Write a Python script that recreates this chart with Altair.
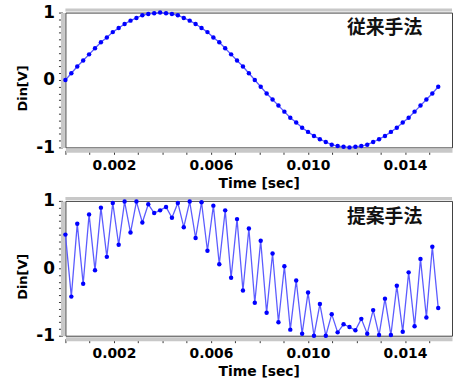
import altair as alt
import pandas as pd

# ---- data ----
sample_interval = 0.000244  # seconds between samples

conventional = [0.00, 0.10, 0.20, 0.29, 0.38, 0.47, 0.56, 0.63, 0.71, 0.77,
                0.83, 0.88, 0.92, 0.96, 0.98, 0.99, 1.00, 0.99, 0.98, 0.96,
                0.92, 0.88, 0.83, 0.77, 0.71, 0.63, 0.56, 0.47, 0.38, 0.29,
                0.20, 0.10, 0.00, -0.10, -0.20, -0.29, -0.38, -0.47, -0.56, -0.63,
                -0.71, -0.77, -0.83, -0.88, -0.92, -0.96, -0.98, -0.99, -1.00, -0.99,
                -0.98, -0.96, -0.92, -0.88, -0.83, -0.77, -0.71, -0.63, -0.56, -0.47,
                -0.38, -0.29, -0.20, -0.10]

proposed = [0.50, -0.42, 0.66, -0.23, 0.80, -0.03, 0.90, 0.17, 0.97, 0.35,
            0.99, 0.53, 0.99, 0.68, 0.95, 0.82, 0.86, 0.91, 0.75, 0.97,
            0.61, 0.99, 0.45, 0.98, 0.26, 0.93, 0.06, 0.86, -0.14, 0.73,
            -0.33, 0.59, -0.51, 0.41, -0.66, 0.22, -0.80, 0.03, -0.91, -0.18,
            -0.97, -0.36, -1.00, -0.53, -1.00, -0.68, -0.95, -0.83, -0.87, -0.92,
            -0.75, -0.97, -0.62, -0.99, -0.45, -0.99, -0.26, -0.94, -0.06, -0.86,
            0.14, -0.73, 0.32, -0.59]

times = [round(i * sample_interval, 7) for i in range(len(conventional))]

x_ticks = [0.000, 0.001, 0.002, 0.003, 0.004, 0.005, 0.006, 0.007, 0.008,
           0.009, 0.010, 0.011, 0.012, 0.013, 0.014, 0.015]
y_ticks = [-1.0, -0.9, -0.8, -0.7, -0.6, -0.5, -0.4, -0.3, -0.2, -0.1, 0.0,
           0.1, 0.2, 0.3, 0.4, 0.5, 0.6, 0.7, 0.8, 0.9, 1.0]
panel_titles = ["従来手法", "提案手法"]
x_domain = [0, 0.01594]
y_domain = [-1, 1]

W, H = 390, 136
FONT = "DejaVu Sans"


def panel(values, label):
    df = pd.DataFrame({"t": times, "v": values})
    x = alt.X("t:Q",
              scale=alt.Scale(domain=x_domain, nice=False, zero=False),
              axis=alt.Axis(values=x_ticks,
                            labelExpr="(round(datum.value*1000) % 4 == 2) ? format(datum.value, '.3f') : ''",
                            title="Time [sec]", labelOverlap=False, labelFlush=False,
                            labelFontSize=14, labelPadding=4, titlePadding=4,
                            titleFontSize=14))
    y = alt.Y("v:Q",
              scale=alt.Scale(domain=y_domain, nice=False, zero=False),
              axis=alt.Axis(values=y_ticks,
                            labelExpr="abs(datum.value - round(datum.value)) < 0.001 ? '' + round(datum.value) : ''",
                            title="Din[V]", labelOverlap=False, labelFlush=False,
                            labelBound=False,
                            labelFontSize=17, labelPadding=4,
                            titleFontSize=13, titleAngle=270,
                            titleX=-40, titleY=76,
                            titleAlign="center", titleBaseline="middle"))
    series = alt.Chart(df).mark_line(
        color="#5c5cff", strokeWidth=1.3,
        point=alt.OverlayMarkDef(filled=True, color="#0000ff", size=20, opacity=1),
    ).encode(x=x, y=y)
    band = alt.Chart(pd.DataFrame({"k": [0]})).mark_rule(
        color="#c8c8c8", strokeWidth=3).encode(
        x=alt.value(0), x2=alt.value(W), y=alt.value(-2.5))
    txt = alt.Chart(pd.DataFrame({"label": [label]})).mark_text(
        font="Noto Sans CJK JP", fontWeight="bold", fontSize=19, color="#111111"
    ).encode(text="label:N", x=alt.value(322), y=alt.value(16))
    return alt.layer(band, series, txt).properties(width=W, height=H)


top = panel(conventional, panel_titles[0])
bottom = panel(proposed, panel_titles[1])

chart = alt.vconcat(top, bottom, spacing=54, bounds="flush").properties(
    padding={"left": 16, "top": 1, "right": 0, "bottom": 0},
    background="white",
).configure_view(
    stroke="#404040", strokeWidth=1
).configure_axis(
    labelFont=FONT, labelFontWeight="bold", labelColor="#000000",
    titleFont=FONT, titleFontWeight="bold", titleColor="#000000",
    domainColor="#c8c8c8", domainWidth=4, offset=3,
    tickColor="#333333", tickSize=4, tickWidth=1, grid=False,
)

chart.save("out.html", embed_options={"renderer": "svg", "actions": False})
